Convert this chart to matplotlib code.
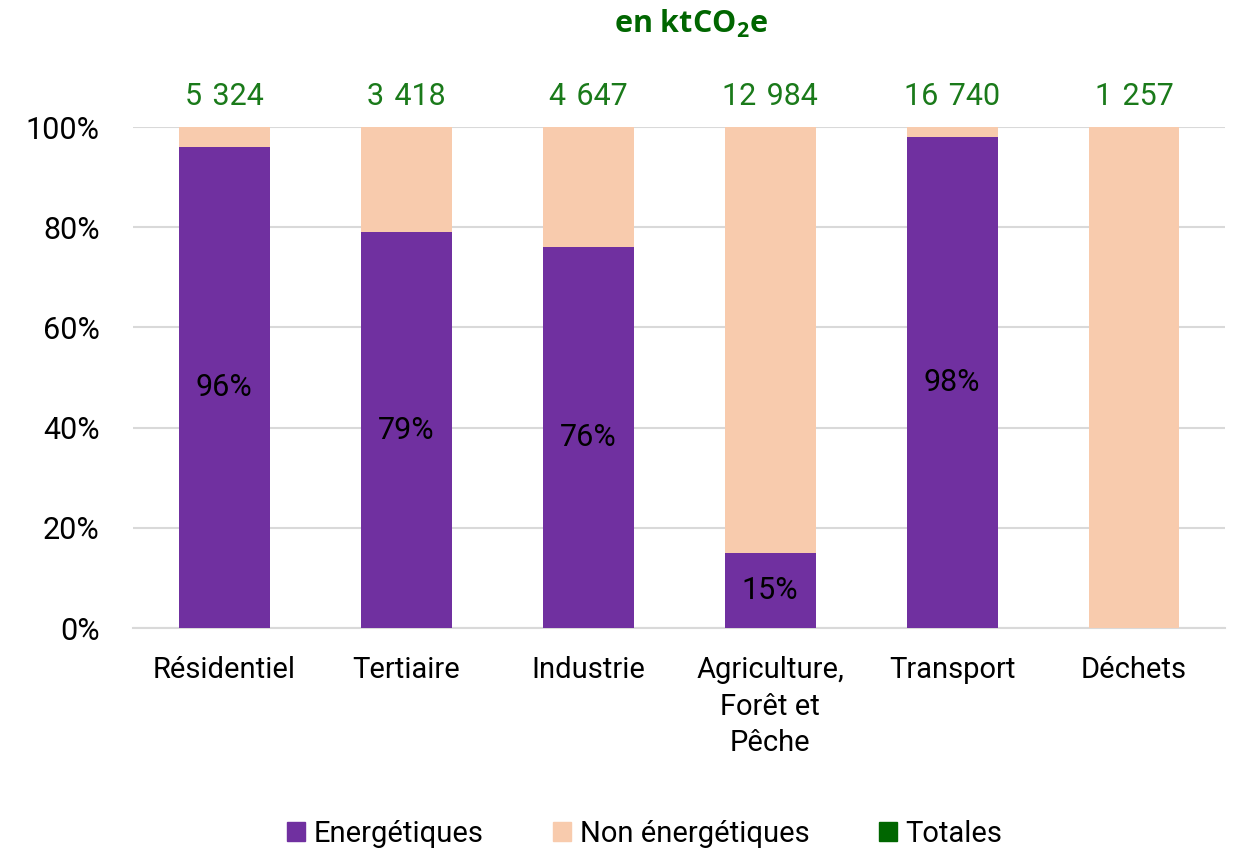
import matplotlib
matplotlib.use("Agg")
import matplotlib.pyplot as plt
from matplotlib.patches import Patch
import numpy as np

categories = ["Résidentiel", "Tertiaire", "Industrie", "Agriculture,\nForêt et\nPêche", "Transport", "Déchets"]
energetiques = [96, 79, 76, 15, 98, 0]
totales = [5324, 3418, 4647, 12984, 16740, 1257]

purple = "#7030A0"
peach = "#F8CBAD"
green = "#1A7A1A"

plt.rcParams['font.family'] = ['Roboto', 'DejaVu Sans']
plt.rcParams['mathtext.fontset'] = 'custom'
plt.rcParams['mathtext.rm'] = 'Open Sans'
plt.rcParams['mathtext.bf'] = 'Open Sans:bold'

fig = plt.figure(figsize=(12.33, 8.49), dpi=100)
ax = fig.add_axes([0.108, 0.2603, 0.8855, 0.5901])

x = np.arange(len(categories))
non_energ = [100 - v for v in energetiques]

ax.bar(x, energetiques, width=0.5, color=purple, zorder=3)
ax.bar(x, non_energ, width=0.5, bottom=energetiques, color=peach, zorder=3)

for xi, v in zip(x, energetiques):
    if v > 0:
        ax.text(xi, v / 2, f"{v}%", ha="center", va="center", fontsize=22, color="black", zorder=4)

for xi, t in zip(x, totales):
    ax.text(xi, 106, f"{t:,}".replace(",", "\u2004"), ha="center", va="center", fontsize=22, color=green)

ax.set_xlim(-0.5, len(categories) - 0.5)
ax.set_ylim(0, 100)
ax.set_yticks(range(0, 101, 20))
ax.set_yticklabels([f"{v}%" for v in range(0, 101, 20)])
ax.set_xticks(x)
ax.set_xticklabels(categories, linespacing=1.4)
ax.tick_params(axis="x", labelsize=21, length=0, pad=20)
ax.tick_params(axis="y", labelsize=22, length=0, pad=24)
ax.yaxis.grid(True, color="#D9D9D9", linewidth=1.5, zorder=0)
for s in ["top", "right", "left"]:
    ax.spines[s].set_visible(False)
ax.spines["bottom"].set_color("#D9D9D9")
ax.spines["bottom"].set_linewidth(1.5)

fig.text(0.56, 0.972, r"en ktCO$_\mathbf{2}$e", ha="center", va="center", fontsize=22,
         fontweight="bold", color="#006600", family=["Open Sans", "DejaVu Sans"])

handles = [Patch(color=purple, label="Energétiques"),
           Patch(color=peach, label="Non énergétiques"),
           Patch(color="#006600", label="Totales")]
fig.legend(handles=handles, loc="center", bbox_to_anchor=(0.523, 0.018), ncol=3, frameon=False,
           fontsize=21, handlelength=0.6, handleheight=0.6, columnspacing=2.4, handletextpad=0.3)

fig.savefig("out.png", dpi=100)
